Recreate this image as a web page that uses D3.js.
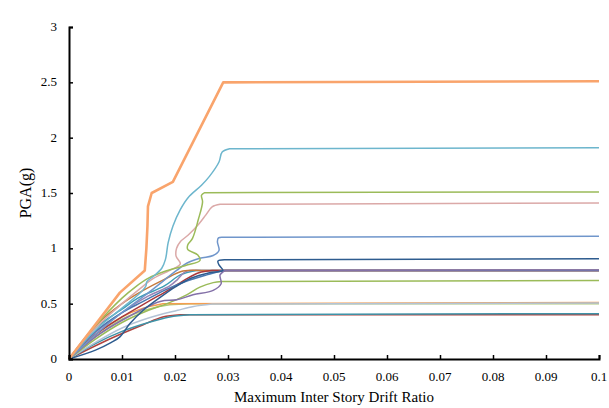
<!DOCTYPE html>
<html>
<head>
<meta charset="utf-8">
<script src="https://cdn.jsdelivr.net/npm/d3@7"></script>
<style>
  body { margin: 0; background: #fff; }
  text { font-family: "Liberation Serif", "Times New Roman", serif; }
</style>
</head>
<body>
<div id="chart"></div>
<script>
// IDA curves, [drift ratio, PGA(g)]
const rec25 = [[0,0],[0.0096,0.6],[0.0143,0.8],[0.0146,1.0],[0.0148,1.2],[0.0149,1.38],[0.0156,1.5],[0.0196,1.6],[0.0291,2.5],[0.1,2.51]];
const rec19 = [[0,0],[0.005,0.26],[0.01,0.46],[0.0135,0.6],[0.0145,0.66],[0.0147,0.7],[0.016,0.75],[0.0175,0.82],[0.0182,0.9],[0.0187,1.05],[0.0196,1.2],[0.021,1.35],[0.0225,1.46],[0.025,1.57],[0.0265,1.65],[0.0283,1.78],[0.0289,1.87],[0.0303,1.9],[0.1,1.91]];
const rec15 = [[0,0],[0.005,0.3],[0.01,0.55],[0.0125,0.65],[0.015,0.73],[0.018,0.79],[0.022,0.845],[0.0247,0.89],[0.0243,0.94],[0.0224,0.99],[0.0224,1.03],[0.0233,1.09],[0.0244,1.26],[0.0252,1.42],[0.025,1.48],[0.0256,1.503],[0.1,1.51]];
const rec14 = [[0,0],[0.005,0.28],[0.01,0.5],[0.013,0.62],[0.016,0.73],[0.019,0.8],[0.021,0.86],[0.0202,0.93],[0.0203,1.0],[0.021,1.06],[0.0225,1.12],[0.0245,1.22],[0.0258,1.3],[0.027,1.375],[0.0285,1.398],[0.1,1.41]];
const rec11 = [[0,0],[0.005,0.22],[0.01,0.42],[0.015,0.6],[0.0203,0.8],[0.0222,0.865],[0.0247,0.91],[0.0272,0.935],[0.0283,0.98],[0.028,1.06],[0.0282,1.095],[0.0292,1.1],[0.1,1.11]];
const rec09 = [[0,0],[0.005,0.08],[0.008,0.15],[0.0096,0.2],[0.0115,0.32],[0.014,0.44],[0.017,0.55],[0.02,0.65],[0.023,0.73],[0.0265,0.78],[0.029,0.8],[0.0283,0.85],[0.0281,0.885],[0.0293,0.897],[0.1,0.905]];
const rec08a = [[0,0],[0.005,0.2],[0.01,0.35],[0.0172,0.52],[0.0203,0.535],[0.0234,0.58],[0.0272,0.62],[0.0287,0.68],[0.0285,0.76],[0.0295,0.8],[0.1,0.805]];
const rec08b = [[0,0],[0.005,0.3],[0.01,0.5],[0.014,0.62],[0.018,0.72],[0.0215,0.795],[0.025,0.8],[0.1,0.8]];
const rec08c = [[0,0],[0.005,0.22],[0.01,0.38],[0.015,0.52],[0.019,0.63],[0.022,0.72],[0.0245,0.78],[0.027,0.8],[0.1,0.8]];
const rec08d = [[0,0],[0.005,0.25],[0.01,0.42],[0.014,0.52],[0.018,0.62],[0.022,0.7],[0.026,0.76],[0.029,0.8],[0.1,0.8]];
const rec08e = [[0,0],[0.005,0.24],[0.01,0.42],[0.015,0.57],[0.019,0.66],[0.0205,0.72],[0.022,0.79],[0.025,0.8],[0.1,0.8]];
const rec08f = [[0,0],[0.005,0.28],[0.01,0.45],[0.013,0.55],[0.018,0.66],[0.021,0.76],[0.024,0.8],[0.1,0.8]];
const rec07 = [[0,0],[0.005,0.18],[0.01,0.33],[0.015,0.44],[0.0185,0.5],[0.0222,0.58],[0.0247,0.65],[0.0272,0.69],[0.0288,0.7],[0.1,0.71]];
const rec05a = [[0,0],[0.005,0.22],[0.01,0.38],[0.014,0.46],[0.0177,0.5],[0.1,0.51]];
const rec05b = [[0,0],[0.005,0.15],[0.01,0.28],[0.015,0.37],[0.0205,0.44],[0.0235,0.475],[0.027,0.497],[0.1,0.505]];
const rec05c = [[0,0],[0.005,0.2],[0.01,0.36],[0.015,0.45],[0.019,0.49],[0.023,0.5],[0.1,0.5]];
const rec04a = [[0,0],[0.005,0.14],[0.01,0.25],[0.015,0.33],[0.019,0.38],[0.0228,0.4],[0.1,0.41]];
const rec04b = [[0,0],[0.005,0.12],[0.01,0.23],[0.014,0.31],[0.0177,0.38],[0.021,0.4],[0.1,0.4]];

const xTicks = [0, 0.01, 0.02, 0.03, 0.04, 0.05, 0.06, 0.07, 0.08, 0.09, 0.1];
const yTicks = [0, 0.5, 1, 1.5, 2, 2.5, 3];

// draw order: back to front
const series = [
    { d: rec04b, c: "#B0433F" },
    { d: rec04a, c: "#3E93A8" },
    { d: rec05c, c: "#AFC97A" },
    { d: rec05a, c: "#F59D50" },
    { d: rec05b, c: "#B3C3D6" },
    { d: rec08f, c: "#3C9DB5" },
    { d: rec08e, c: "#9983B5" },
    { d: rec08b, c: "#C67A3C" },
    { d: rec08c, c: "#A8383B" },
    { d: rec08d, c: "#4A78B0" },
    { d: rec07,  c: "#9BBB59" },
    { d: rec08a, c: "#8471A8" },
    { d: rec09,  c: "#2E5C8F" },
    { d: rec11,  c: "#7096CB" },
    { d: rec14,  c: "#DBA9A8" },
    { d: rec15,  c: "#9BBB59" },
    { d: rec19,  c: "#6DB6CD" }
];

const W = 609, H = 408;
const m = { left: 69, top: 27, right: 10, bottom: 49 };

const svg = d3.select("#chart")
    .append("svg")
      .attr("width", W)
      .attr("height", H);

const x = d3.scaleLinear().domain([0, 0.1]).range([m.left, W - m.right]);
const y = d3.scaleLinear().domain([0, 3]).range([H - m.bottom, m.top]);

const smooth = d3.line().x(d => x(d[0])).y(d => y(d[1])).curve(d3.curveCatmullRom.alpha(0.5));
const straight = d3.line().x(d => x(d[0])).y(d => y(d[1]));

// smooth through the rising part, then a straight plateau to the last point
function idaPath(pts) {
    const n = pts.length;
    return smooth(pts.slice(0, n - 1)) + "L" + x(pts[n - 1][0]) + "," + y(pts[n - 1][1]);
}

svg.append("g")
    .selectAll("path")
    .data(series)
    .join("path")
      .attr("d", s => idaPath(s.d))
      .attr("fill", "none")
      .attr("stroke", s => s.c)
      .attr("stroke-width", 1.5)
      .attr("stroke-linejoin", "round");

svg.append("path")
    .attr("d", straight(rec25))
    .attr("fill", "none")
    .attr("stroke", "#F9A46C")
    .attr("stroke-width", 2.6)
    .attr("stroke-linejoin", "round");

// axes with inward ticks
const xAxis = svg.append("g")
    .attr("transform", `translate(0, ${y(0)})`)
    .call(d3.axisTop(x).tickValues(xTicks).tickSize(4).tickFormat(d3.format("")));
xAxis.selectAll("text").remove();
xAxis.selectAll("line").attr("stroke-width", 1.5);
xAxis.select(".domain").attr("stroke-width", 2);

const yAxis = svg.append("g")
    .attr("transform", `translate(${x(0)}, 0)`)
    .call(d3.axisRight(y).tickValues(yTicks).tickSize(4));
yAxis.selectAll("text").remove();
yAxis.selectAll("line").attr("stroke-width", 1.5);
yAxis.select(".domain").attr("stroke-width", 2);

svg.append("g")
    .selectAll("text")
    .data(xTicks)
    .join("text")
      .attr("x", d => x(d))
      .attr("y", y(0) + 22)
      .attr("text-anchor", "middle")
      .attr("font-size", 13)
      .text(d => d);

svg.append("g")
    .selectAll("text")
    .data(yTicks)
    .join("text")
      .attr("x", x(0) - 12)
      .attr("y", d => y(d) + 4)
      .attr("text-anchor", "end")
      .attr("font-size", 13)
      .text(d => d);

svg.append("text")
    .attr("x", (x(0) + x(0.1)) / 2)
    .attr("y", 402)
    .attr("text-anchor", "middle")
    .attr("font-size", 15)
    .text("Maximum Inter Story Drift Ratio");

svg.append("text")
    .attr("transform", `translate(31, ${y(1.5)}) rotate(-90)`)
    .attr("text-anchor", "middle")
    .attr("font-size", 16)
    .text("PGA(g)");
</script>
</body>
</html>
